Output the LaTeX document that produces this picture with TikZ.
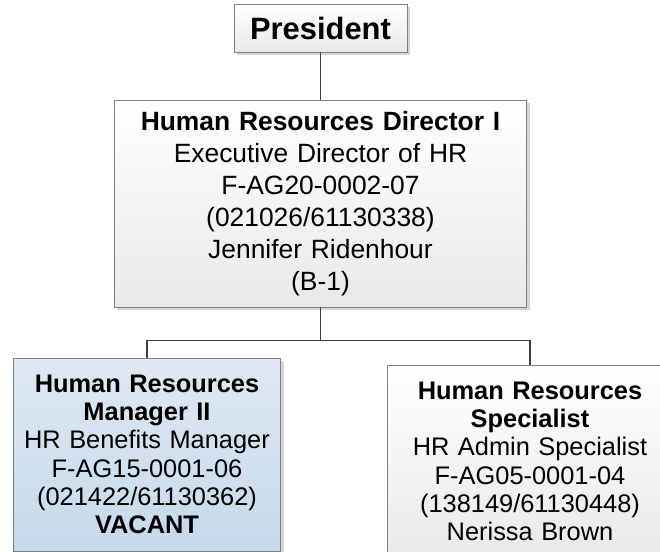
\documentclass[tikz,border=0pt]{standalone}
\usepackage{fontspec}
\setmainfont{Liberation Sans}
\usetikzlibrary{shadows}
\definecolor{bluetop}{HTML}{DFE9F3}
\definecolor{bluebot}{HTML}{C6D9EA}
\definecolor{greybot}{HTML}{E9E9E9}
\newcommand\presfont{\fontsize{31}{36}\selectfont\bfseries}
\newcommand\dirfont{\fontsize{26.5}{32}\selectfont}
\newcommand\lowfont{\fontsize{25.5}{28.4}\selectfont}
\tikzset{
  post/.style={draw=black!50, line width=0.9bp, align=center, inner sep=0pt,
    drop shadow={shadow xshift=3bp, shadow yshift=-3bp, fill=black!16, opacity=1}},
  greypost/.style={post, top color=white, bottom color=greybot},
  bluepost/.style={post, top color=bluetop, bottom color=bluebot},
  link/.style={draw=black!75, line width=1.8bp}
}

\begin{document}
\begin{tikzpicture}[x=1bp,y=-1bp]
  \clip (0,0) rectangle (660,552);
  \node[greypost, minimum width=173bp, minimum height=48bp, font=\presfont]
    (pres) at (320.5,28) {President};
  \node[greypost, minimum width=412bp, minimum height=207bp, text width=405bp, font=\dirfont]
    (dir) at (320.5,203.5) {\textbf{Human Resources Director I}\\
      Executive Director of HR\\
      F-AG20-0002-07\\
      (021026/61130338)\\
      Jennifer Ridenhour\\
      (B-1)};
  % lower row
  \node[bluepost, minimum width=267bp, minimum height=193bp, text width=262bp, font=\lowfont]
    (mgr) at (147,454.5) {\textbf{Human Resources}\\
      \textbf{Manager II}\\
      HR Benefits Manager\\
      F-AG15-0001-06\\
      (021422/61130362)\\
      \textbf{VACANT}};
  \node[greypost, minimum width=286bp, minimum height=193bp, text width=280bp, font=\lowfont]
    (spec) at (530,461.5) {\textbf{Human Resources}\\
      \textbf{Specialist}\\
      HR Admin Specialist\\
      F-AG05-0001-04\\
      (138149/61130448)\\
      Nerissa Brown};
  \draw[link] (pres) -- (dir);
  \draw[link] (dir.south) -- ++(0,33) coordinate (fork);
  \draw[link] (mgr.north) |- (fork) -| (spec.north);
\end{tikzpicture}
\end{document}
